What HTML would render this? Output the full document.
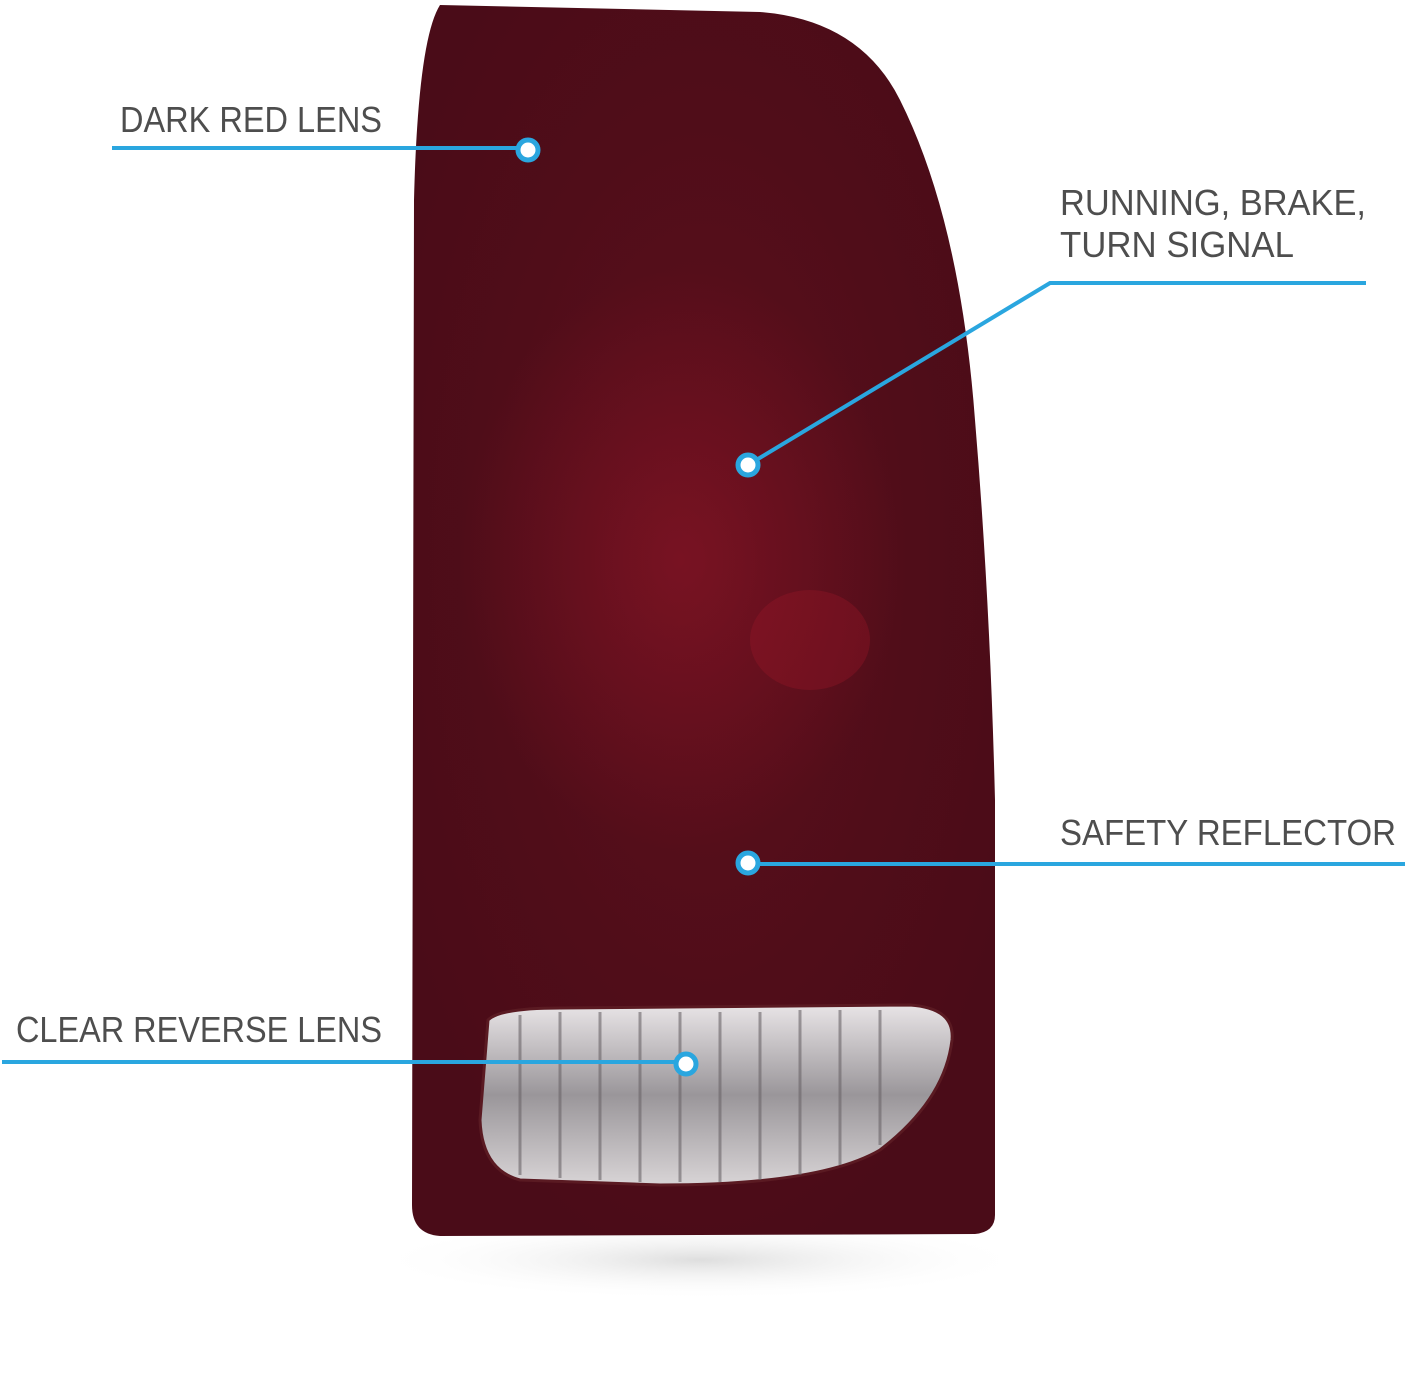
<!DOCTYPE html>
<html><head><meta charset="utf-8"><style>
html,body{margin:0;padding:0;background:#fff;}
svg{display:block;}
</style></head><body>
<svg width="1408" height="1375" viewBox="0 0 1408 1375" xmlns="http://www.w3.org/2000/svg">
<defs>
<radialGradient id="body" cx="0.5" cy="0.45" r="0.6">
<stop offset="0" stop-color="#5e0f1c"/>
<stop offset="0.6" stop-color="#500d19"/>
<stop offset="1" stop-color="#4a0c18"/>
</radialGradient>
<radialGradient id="glow" cx="0.5" cy="0.5" r="0.5">
<stop offset="0" stop-color="#8e1527" stop-opacity="0.55"/>
<stop offset="1" stop-color="#8e1527" stop-opacity="0"/>
</radialGradient>
<linearGradient id="clear" x1="0" y1="0" x2="0" y2="1">
<stop offset="0" stop-color="#e8e4e6"/>
<stop offset="0.5" stop-color="#9a969a"/>
<stop offset="1" stop-color="#d8d4d6"/>
</linearGradient>
<radialGradient id="shadow" cx="0.5" cy="0.5" r="0.5">
<stop offset="0" stop-color="#c8c8c8" stop-opacity="0.6"/>
<stop offset="1" stop-color="#fff" stop-opacity="0"/>
</radialGradient>
</defs>
<ellipse cx="700" cy="1260" rx="330" ry="40" fill="url(#shadow)"/>
<path d="M440 5 L760 12 Q860 20 900 100 Q960 220 975 420 Q990 600 995 800 L995 1215 Q995 1232 975 1234 L440 1236 Q412 1234 412 1205 L414 200 Q418 40 440 5 Z" fill="url(#body)"/>
<ellipse cx="680" cy="560" rx="220" ry="290" fill="url(#glow)"/>
<ellipse cx="810" cy="640" rx="60" ry="50" fill="#9a1828" opacity="0.35"/>
<path d="M488 1020 Q500 1008 560 1008 L910 1005 Q955 1008 952 1040 Q945 1100 880 1150 Q820 1185 660 1185 L520 1180 Q482 1170 480 1120 Z" fill="url(#clear)" stroke="#5a1a22" stroke-width="3"/>
<g stroke="#6a6468" stroke-width="3" opacity="0.6">
<line x1="520" y1="1015" x2="520" y2="1175"/><line x1="560" y1="1012" x2="560" y2="1178"/>
<line x1="600" y1="1012" x2="600" y2="1180"/><line x1="640" y1="1012" x2="640" y2="1182"/>
<line x1="680" y1="1012" x2="680" y2="1182"/><line x1="720" y1="1012" x2="720" y2="1182"/>
<line x1="760" y1="1012" x2="760" y2="1180"/><line x1="800" y1="1010" x2="800" y2="1175"/>
<line x1="840" y1="1010" x2="840" y2="1165"/><line x1="880" y1="1010" x2="880" y2="1145"/>
</g>
<g fill="#4e4e4e" font-family="Liberation Sans, sans-serif" font-size="36">
<text x="120" y="132" textLength="262" lengthAdjust="spacingAndGlyphs">DARK RED LENS</text>
<text x="1060" y="215" textLength="306" lengthAdjust="spacingAndGlyphs">RUNNING, BRAKE,</text>
<text x="1060" y="257" textLength="234" lengthAdjust="spacingAndGlyphs">TURN SIGNAL</text>
<text x="1060" y="845" textLength="336" lengthAdjust="spacingAndGlyphs">SAFETY REFLECTOR</text>
<text x="16" y="1042" textLength="366" lengthAdjust="spacingAndGlyphs">CLEAR REVERSE LENS</text>
</g>
<g stroke="#2aa6df" stroke-width="4" fill="none">
<line x1="112" y1="148" x2="528" y2="148"/>
<polyline points="1366,283 1050,283 748,465"/>
<line x1="748" y1="864" x2="1405" y2="864"/>
<line x1="2" y1="1062" x2="686" y2="1062"/>
</g>
<g fill="#fff" stroke="#2aa6df" stroke-width="5">
<circle cx="528" cy="150" r="10"/>
<circle cx="748" cy="465" r="10"/>
<circle cx="748" cy="863" r="10"/>
<circle cx="686" cy="1064" r="10"/>
</g>
</svg>
</body></html>
